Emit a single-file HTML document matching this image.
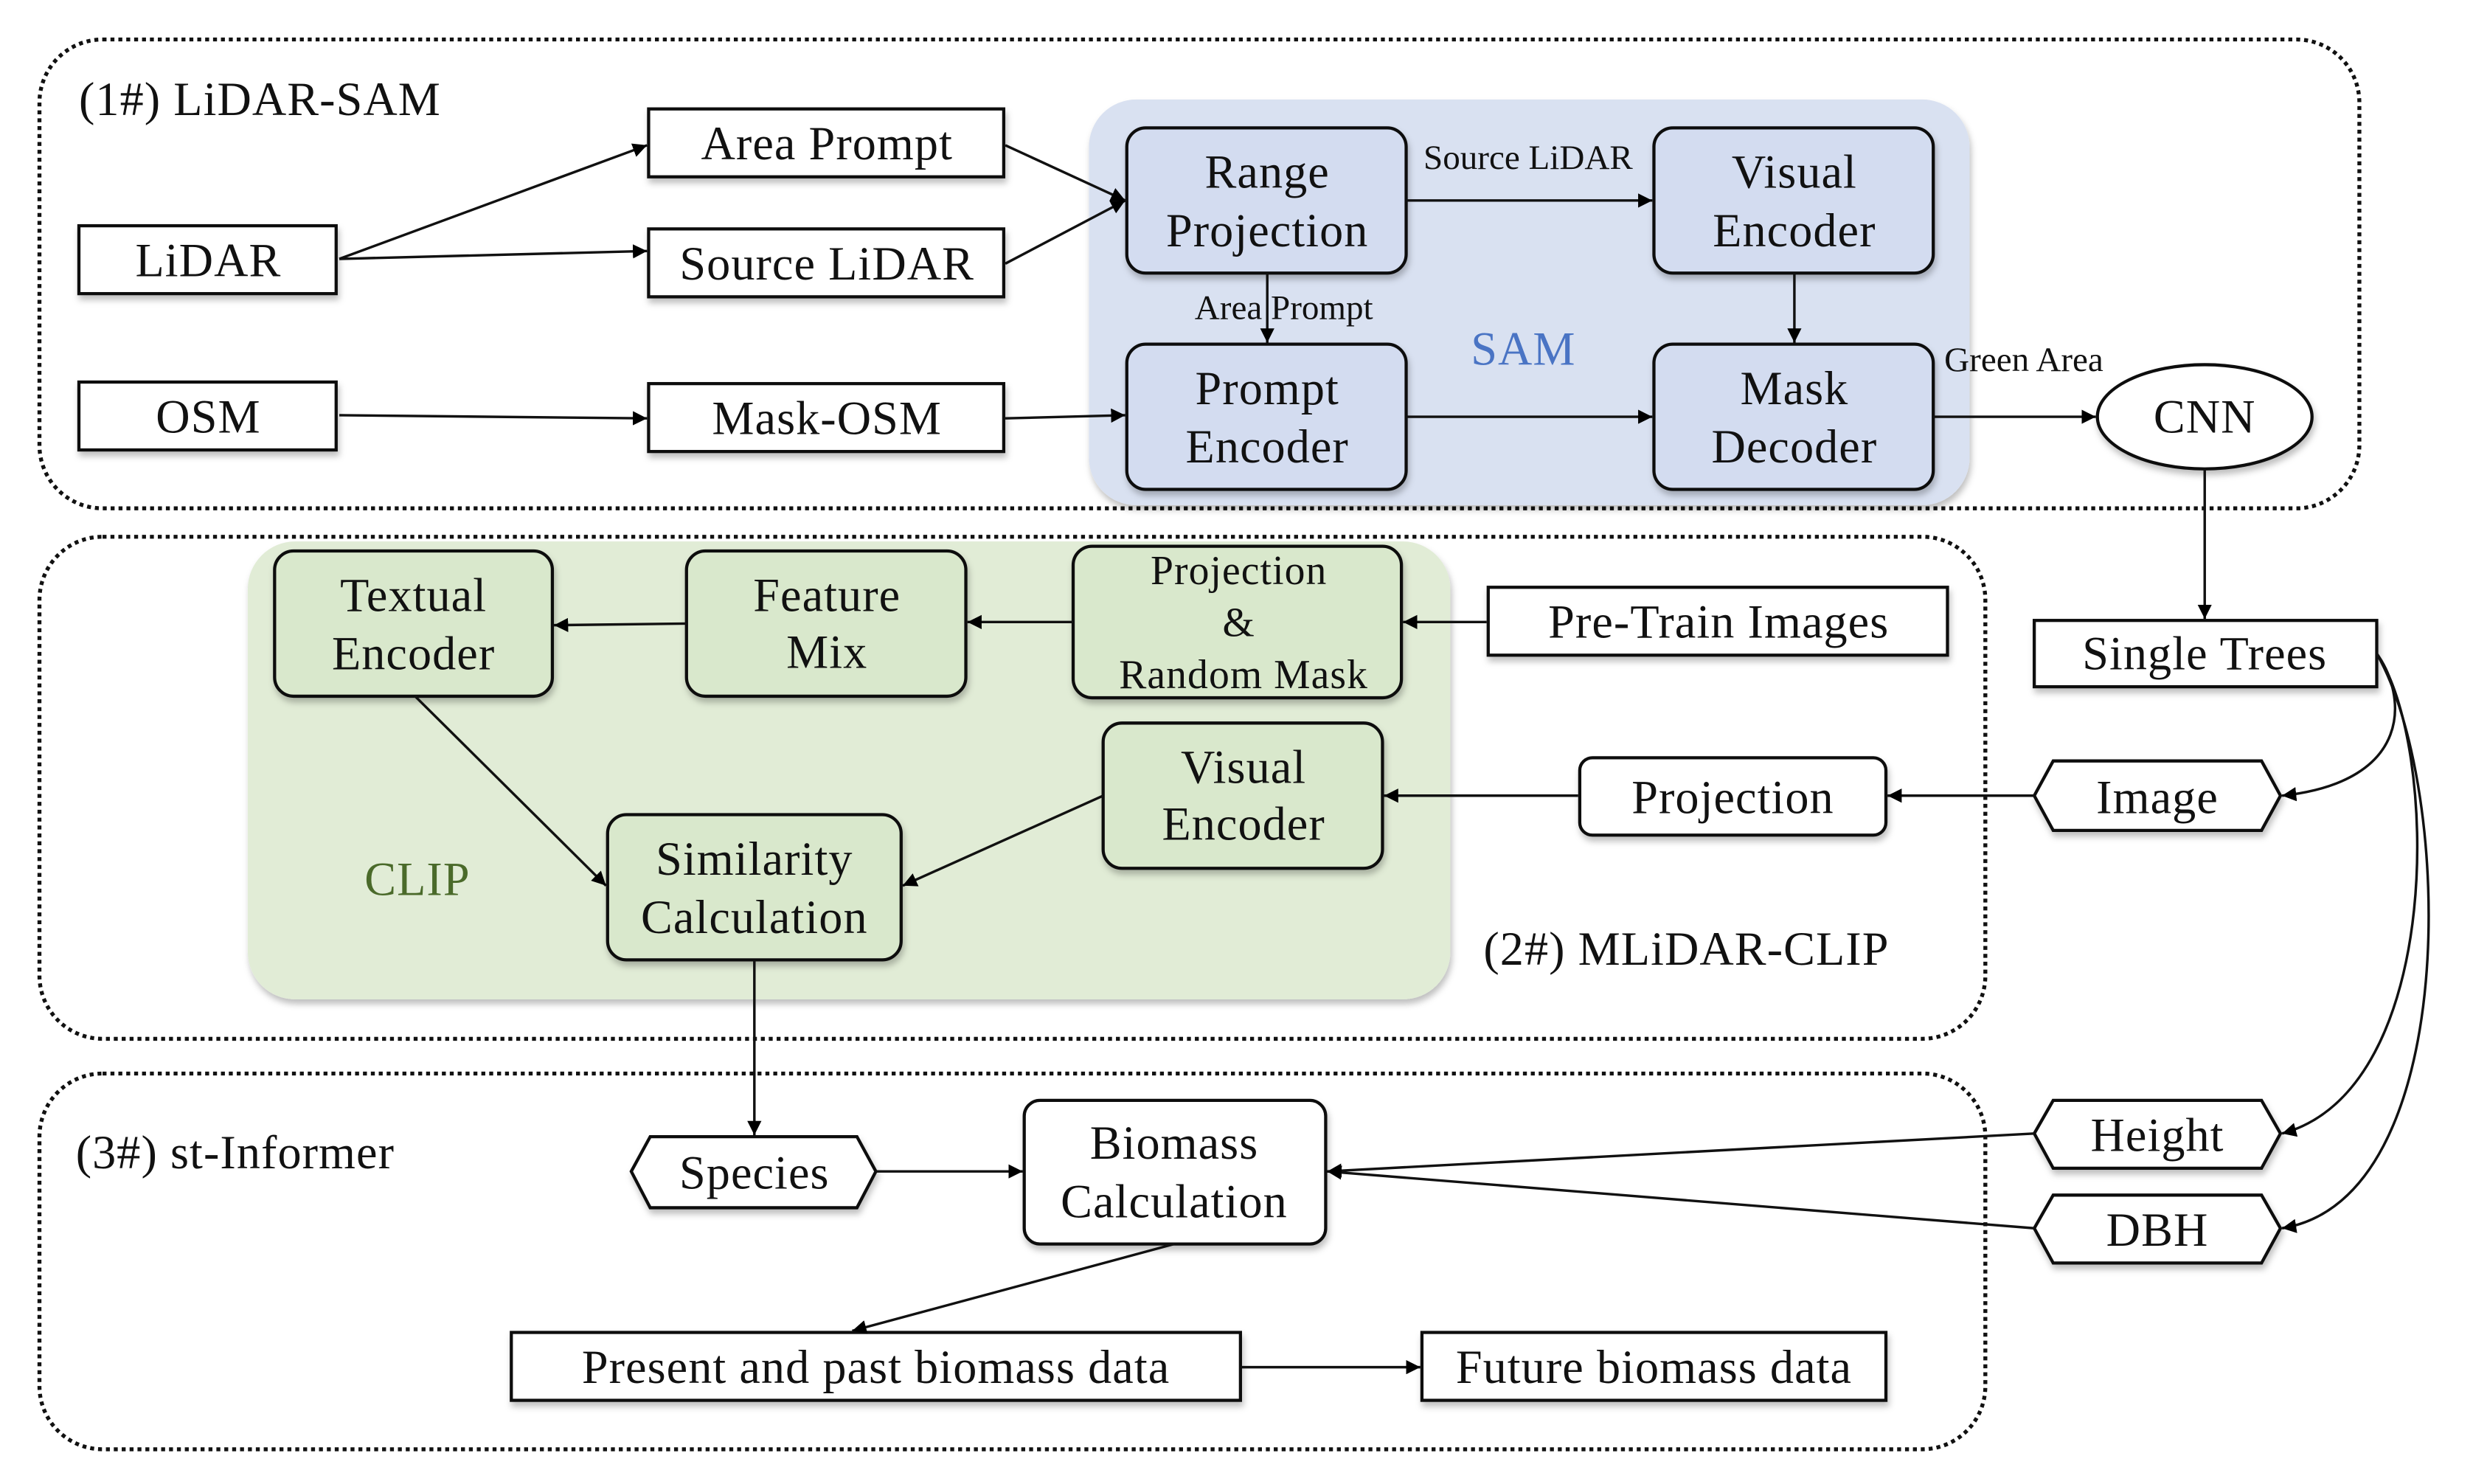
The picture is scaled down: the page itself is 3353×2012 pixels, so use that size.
<!DOCTYPE html>
<html><head><meta charset="utf-8"><style>
html,body{margin:0;padding:0;background:#fff;}
svg{display:block;}
text{font-family:"Liberation Serif",serif;fill:#111;}
</style></head><body>
<svg width="3353" height="2012" viewBox="0 0 1567 940" preserveAspectRatio="none" xmlns="http://www.w3.org/2000/svg">
<defs>
<marker id="a" viewBox="0 0 10 10" refX="10" refY="5" markerWidth="9" markerHeight="9" markerUnits="userSpaceOnUse" orient="auto"><path d="M0,0L10,5L0,10z" fill="#000"/></marker>
<filter id="sh" x="-10%" y="-10%" width="130%" height="140%"><feDropShadow dx="1" dy="3" stdDeviation="2" flood-color="#000" flood-opacity="0.25"/></filter>
</defs>
<g fill="none" stroke="#111" stroke-width="2.5" stroke-dasharray="2.5 2.5">
<rect x="25" y="25" width="1470" height="297" rx="40"/>
<rect x="25" y="340" width="1233" height="318" rx="40"/>
<rect x="25" y="680" width="1233" height="238" rx="40"/>
</g>
<rect x="690" y="63" width="558" height="257" rx="30" fill="#d9e1f1" filter="url(#sh)"/>
<rect x="157" y="343" width="762" height="290" rx="30" fill="#e1ecd6" filter="url(#sh)"/>
<g stroke="#111" stroke-width="2" filter="url(#sh)">
<rect x="50" y="143" width="163" height="43" fill="#fff"/>
<rect x="50" y="242" width="163" height="43" fill="#fff"/>
<rect x="411" y="69" width="225" height="43" fill="#fff"/>
<rect x="411" y="145" width="225" height="43" fill="#fff"/>
<rect x="411" y="243" width="225" height="43" fill="#fff"/>
<rect x="714" y="81" width="177" height="92" rx="12" fill="#d3dcf0"/>
<rect x="1048" y="81" width="177" height="92" rx="12" fill="#d3dcf0"/>
<rect x="714" y="218" width="177" height="92" rx="12" fill="#d3dcf0"/>
<rect x="1048" y="218" width="177" height="92" rx="12" fill="#d3dcf0"/>
<ellipse cx="1397" cy="264" rx="68" ry="33" fill="#fff"/>
<rect x="1289" y="393" width="217" height="42" fill="#fff"/>
<rect x="174" y="349" width="176" height="92" rx="12" fill="#d9e8cc"/>
<rect x="435" y="349" width="177" height="92" rx="12" fill="#d9e8cc"/>
<rect x="680" y="346" width="208" height="96" rx="12" fill="#d9e8cc"/>
<rect x="699" y="458" width="177" height="92" rx="12" fill="#d9e8cc"/>
<rect x="385" y="516" width="186" height="92" rx="12" fill="#d9e8cc"/>
<rect x="943" y="372" width="291" height="43" fill="#fff"/>
<rect x="1001" y="480" width="194" height="49" rx="8" fill="#fff"/>
<polygon points="1301,482 1433,482 1445,504 1433,526 1301,526 1289,504" fill="#fff"/>
<polygon points="1301,697 1433,697 1445,718 1433,740 1301,740 1289,718" fill="#fff"/>
<polygon points="1301,757 1433,757 1445,778 1433,800 1301,800 1289,778" fill="#fff"/>
<polygon points="412,720 543,720 555,742 543,765 412,765 400,742" fill="#fff"/>
<rect x="649" y="697" width="191" height="91" rx="10" fill="#fff"/>
<rect x="324" y="844" width="462" height="43" fill="#fff"/>
<rect x="901" y="844" width="294" height="43" fill="#fff"/>
</g>
<g stroke="#111" stroke-width="1.6" fill="none" marker-end="url(#a)">
<line x1="215" y1="164" x2="410" y2="92"/>
<line x1="215" y1="164" x2="410" y2="159"/>
<line x1="215" y1="263" x2="410" y2="265"/>
<line x1="637" y1="92" x2="713" y2="127"/>
<line x1="637" y1="167" x2="713" y2="127"/>
<line x1="637" y1="265" x2="713" y2="263"/>
<line x1="891" y1="127" x2="1047" y2="127"/>
<line x1="803" y1="173" x2="803" y2="217"/>
<line x1="1137" y1="173" x2="1137" y2="217"/>
<line x1="891" y1="264" x2="1047" y2="264"/>
<line x1="1225" y1="264" x2="1328" y2="264"/>
<line x1="1397" y1="297" x2="1397" y2="392"/>
<line x1="942" y1="394" x2="889" y2="394"/>
<line x1="680" y1="394" x2="613" y2="394"/>
<line x1="435" y1="395" x2="351" y2="396"/>
<line x1="263" y1="441" x2="384" y2="561"/>
<line x1="699" y1="504" x2="572" y2="561"/>
<line x1="1000" y1="504" x2="877" y2="504"/>
<line x1="1289" y1="504" x2="1196" y2="504"/>
<line x1="478" y1="608" x2="478" y2="719"/>
<line x1="555" y1="742" x2="648" y2="742"/>
<line x1="1289" y1="718" x2="841" y2="742"/>
<line x1="1289" y1="778" x2="841" y2="742"/>
<line x1="744" y1="788" x2="540" y2="843"/>
<line x1="786" y1="866" x2="900" y2="866"/>
<path d="M1506,414 C1525,440 1530,495 1446,504"/>
<path d="M1506,414 C1545,470 1550,690 1446,718"/>
<path d="M1506,414 C1555,500 1560,760 1446,778"/>
</g>
<g font-size="30" text-anchor="middle" letter-spacing="0.5">
<text x="132" y="175">LiDAR</text>
<text x="132" y="274">OSM</text>
<text x="524" y="101">Area Prompt</text>
<text x="524" y="177">Source LiDAR</text>
<text x="524" y="275">Mask-OSM</text>
<text x="803" y="119">Range</text><text x="803" y="156">Projection</text>
<text x="1137" y="119">Visual</text><text x="1137" y="156">Encoder</text>
<text x="803" y="256">Prompt</text><text x="803" y="293">Encoder</text>
<text x="1137" y="256">Mask</text><text x="1137" y="293">Decoder</text>
<text x="1397" y="274">CNN</text>
<text x="1397" y="424">Single Trees</text>
<text x="262" y="387">Textual</text><text x="262" y="424">Encoder</text>
<text x="524" y="387">Feature</text><text x="524" y="423">Mix</text>
<text x="785" y="370" font-size="26">Projection</text>
<text x="785" y="403" font-size="26">&amp;</text>
<text x="788" y="436" font-size="26">Random Mask</text>
<text x="788" y="496">Visual</text><text x="788" y="532">Encoder</text>
<text x="478" y="554">Similarity</text><text x="478" y="591">Calculation</text>
<text x="1089" y="404">Pre-Train Images</text>
<text x="1098" y="515">Projection</text>
<text x="1367" y="515">Image</text>
<text x="1367" y="729">Height</text>
<text x="1367" y="789">DBH</text>
<text x="478" y="753">Species</text>
<text x="744" y="734">Biomass</text><text x="744" y="771">Calculation</text>
<text x="555" y="876">Present and past biomass data</text>
<text x="1048" y="876">Future biomass data</text>
</g>
<g font-size="30" letter-spacing="0.5">
<text x="50" y="73">(1#) LiDAR-SAM</text>
<text x="940" y="611">(2#) MLiDAR-CLIP</text>
<text x="48" y="740">(3#) st-Informer</text>
<text x="932" y="231" style="fill:#4a74c4">SAM</text>
<text x="231" y="567" style="fill:#4a6a2a">CLIP</text>
</g>
<g font-size="22">
<text x="902" y="107">Source LiDAR</text>
<text x="757" y="202">Area Prompt</text>
<text x="1232" y="235">Green Area</text>
</g>
</svg>
</body></html>
